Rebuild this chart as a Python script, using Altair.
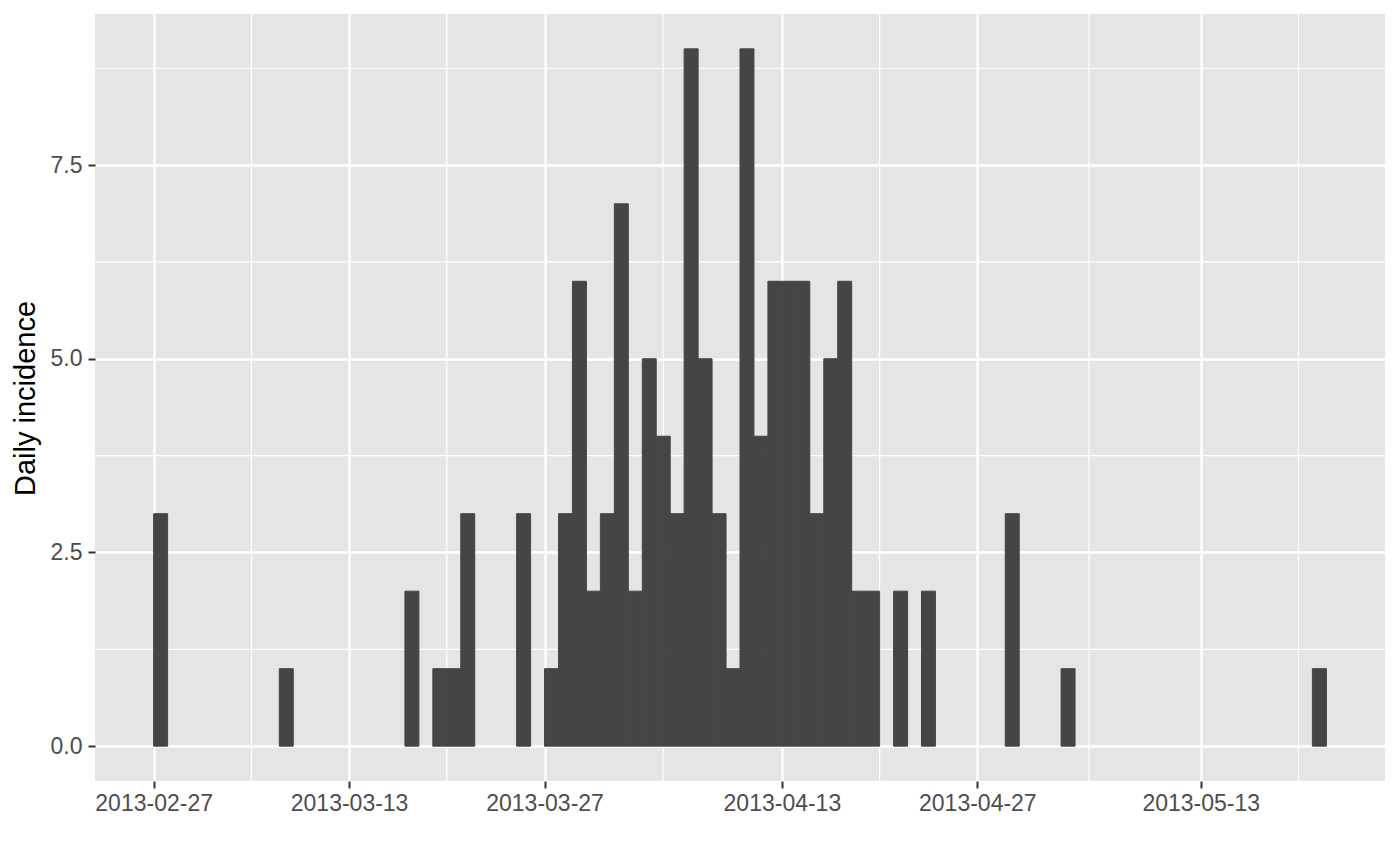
import altair as alt
import pandas as pd

# Daily incidence (date of onset -> cases)
dates = [
    "2013-02-27", "2013-03-08", "2013-03-17", "2013-03-19", "2013-03-20",
    "2013-03-21", "2013-03-25", "2013-03-27", "2013-03-28", "2013-03-29",
    "2013-03-30", "2013-03-31", "2013-04-01", "2013-04-02", "2013-04-03",
    "2013-04-04", "2013-04-05", "2013-04-06", "2013-04-07", "2013-04-08",
    "2013-04-09", "2013-04-10", "2013-04-11", "2013-04-12", "2013-04-13",
    "2013-04-14", "2013-04-15", "2013-04-16", "2013-04-17", "2013-04-18",
    "2013-04-19", "2013-04-21", "2013-04-23", "2013-04-29", "2013-05-03",
    "2013-05-21",
]
counts = [
    3, 1, 2, 1, 1,
    3, 3, 1, 3, 6,
    2, 3, 7, 2, 5,
    4, 3, 9, 5, 3,
    1, 9, 4, 6, 6,
    6, 3, 5, 6, 2,
    2, 2, 2, 3, 1,
    1,
]

x_ticks = ["2013-02-27", "2013-03-13", "2013-03-27", "2013-04-13", "2013-04-27", "2013-05-13"]
x_minor = ["2013-03-06", "2013-03-20", "2013-04-04T12:00:00Z", "2013-04-20", "2013-05-05", "2013-05-20"]
y_ticks = [0, 2.5, 5, 7.5]
y_minor = [1.25, 3.75, 6.25, 8.75]


def ms(s):
    return int(pd.Timestamp(s, tz="UTC").value // 10**6)


DAY = 86400000
first = ms(dates[0])
last_end = ms(dates[-1]) + DAY
span = last_end - first
x_domain = [first - 0.05 * span, last_end + 0.05 * span]
y_domain = [-0.05 * 9, 9 + 0.05 * 9]

df = pd.DataFrame({
    "start": dates,
    "end": (pd.to_datetime(dates) + pd.Timedelta(days=1)).strftime("%Y-%m-%d"),
    "incidence": counts,
})
minor_x_df = pd.DataFrame({"d": x_minor})
minor_y_df = pd.DataFrame({"v": y_minor})

FONT = "Liberation Sans"

x_scale = alt.Scale(type="utc", domain=x_domain, nice=False)
y_scale = alt.Scale(domain=y_domain, nice=False, zero=False)

x_axis = alt.Axis(
    values=[ms(t) for t in x_ticks],
    labelExpr="utcFormat(datum.value, '%Y-%m-%d')",
    title=None, grid=True, gridColor="white", gridWidth=2.4,
    domain=False, tickColor="#333333", tickWidth=2, tickSize=7,
    labelFont=FONT, labelFontSize=23, labelColor="#4D4D4D",
    labelPadding=4, labelOverlap=False, labelFlush=False,
)
y_axis = alt.Axis(
    values=y_ticks, format=".1f", title="Daily incidence",
    grid=True, gridColor="white", gridWidth=2.4,
    domain=False, tickColor="#333333", tickWidth=2, tickSize=7,
    labelFont=FONT, labelFontSize=23, labelColor="#4D4D4D", labelPadding=6,
    titleFont=FONT, titleFontSize=29, titleFontWeight="normal", titleColor="black",
    titleAngle=270, titleAlign="center", titleBaseline="alphabetic",
    titleX=-61, titleY=384,
)

minor_x = alt.Chart(minor_x_df).mark_rule(color="white", strokeWidth=1.2).encode(
    x=alt.X("d:T", scale=x_scale, axis=x_axis)
)
minor_y = alt.Chart(minor_y_df).mark_rule(color="white", strokeWidth=1.2).encode(
    y=alt.Y("v:Q", scale=y_scale, axis=y_axis)
)
bars = alt.Chart(df).mark_rect(
    color="#454545", stroke="#454545", strokeWidth=1.0
).encode(
    x=alt.X("start:T", scale=x_scale, axis=x_axis),
    x2="end:T",
    y=alt.Y("incidence:Q", scale=y_scale, axis=y_axis),
    y2=alt.datum(0),
)

chart = alt.layer(minor_x, minor_y, bars).properties(
    width=1290,
    height=767,
    autosize=alt.AutoSizeParams(type="none"),
    padding={"left": 87, "top": 6, "right": 5, "bottom": 70},
).configure_view(fill="#E5E5E5", stroke=None)

chart.save("out.html", embed_options={"renderer": "svg", "actions": False})
